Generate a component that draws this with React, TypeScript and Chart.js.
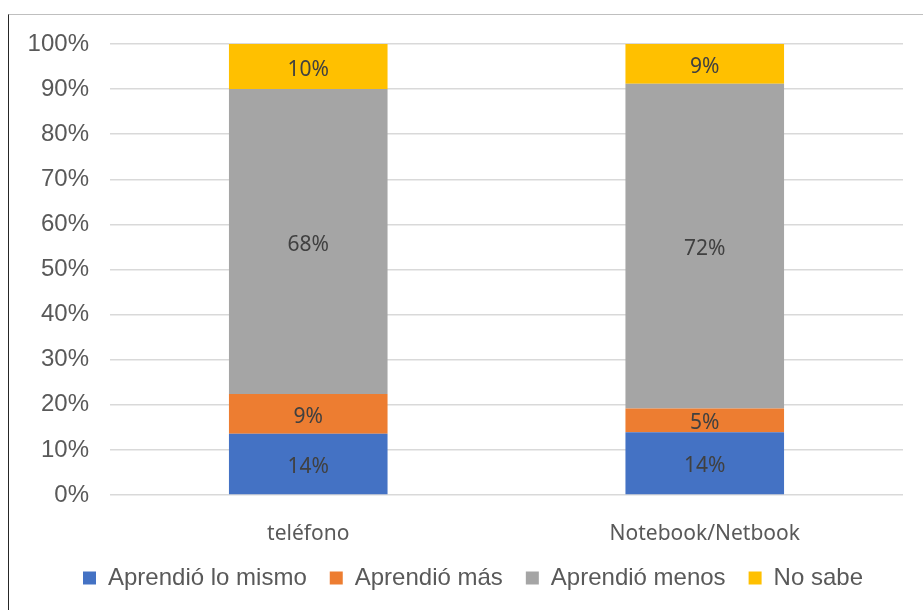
import React, { useEffect, useRef } from "react";
import { Chart, registerables } from "chart.js";

Chart.register(...registerables);

const categories = ["teléfono", "Notebook/Netbook"];
const seriesNames = ["Aprendió lo mismo", "Aprendió más", "Aprendió menos", "No sabe"];
const aprendioLoMismo = [13.6, 13.9];
const aprendioMas = [8.8, 5.3];
const aprendioMenos = [67.6, 72.0];
const noSabe = [10.0, 8.8];
const seriesColors = ["#4472C4", "#ED7D31", "#A5A5A5", "#FFC000"];
const yTicks = [0, 10, 20, 30, 40, 50, 60, 70, 80, 90, 100];

const dataLabelPlugin = {
  id: "segmentLabels",
  afterDatasetsDraw(chart: any) {
    const ctx = chart.ctx;
    ctx.save();
    ctx.font = '21px "Noto Sans"';
    ctx.fillStyle = "#404040";
    ctx.textAlign = "center";
    ctx.textBaseline = "middle";
    chart.data.datasets.forEach((ds: any, di: number) => {
      const meta = chart.getDatasetMeta(di);
      meta.data.forEach((el: any, i: number) => {
        const v = ds.data[i];
        const cy = (el.y + el.base) / 2;
        ctx.fillText(Math.round(v) + "%", el.x, cy + 3);
      });
    });
    ctx.restore();
  },
};

export default function App() {
  const ref = useRef<HTMLCanvasElement>(null);
  useEffect(() => {
    if (!ref.current) return;
    const values = [aprendioLoMismo, aprendioMas, aprendioMenos, noSabe];
    const chart = new Chart(ref.current, {
      type: "bar",
      data: {
        labels: categories,
        datasets: seriesNames.map((name, i) => ({
          label: name,
          data: values[i],
          backgroundColor: seriesColors[i],
          borderWidth: 0,
          categoryPercentage: 1,
          barPercentage: 0.4,
        })),
      },
      options: {
        animation: false,
        responsive: false,
        devicePixelRatio: 1,
        layout: { padding: { top: 29, left: 14, right: 0, bottom: 10 } },
        plugins: {
          tooltip: { enabled: false },
          legend: {
            position: "bottom",
            labels: {
              boxWidth: 13,
              boxHeight: 13,
              padding: 23,
              color: "#595959",
              font: { family: '"Liberation Sans", Arial, sans-serif', size: 24 },
            },
          },
        },
        scales: {
          x: {
            stacked: true,
            grid: { display: false },
            border: { display: false },
            ticks: {
              padding: 18,
              color: "#595959",
              font: { family: '"Noto Sans", sans-serif', size: 21 },
            },
            afterFit: (s: any) => {
              s.height = 48;
            },
          },
          y: {
            stacked: true,
            position: "left",
            min: 0,
            max: 100,
            afterBuildTicks: (s: any) => {
              s.ticks = yTicks.map((v) => ({ value: v }));
            },
            grid: { color: "#d9d9d9", lineWidth: 1.5, drawTicks: false },
            border: { display: false },
            ticks: {
              padding: 21,
              color: "#595959",
              font: { family: '"Liberation Sans", Arial, sans-serif', size: 24 },
              callback: (v: any) => v + "%",
            },
            afterFit: (s: any) => {
              s.width = 87;
              s.paddingTop = 0;
              s.paddingBottom = 0;
            },
          },
          yRight: {
            position: "right",
            display: true,
            min: 0,
            max: 100,
            grid: { display: false, drawTicks: false },
            border: { display: false },
            ticks: { display: false },
            afterFit: (s: any) => {
              s.width = 20;
              s.paddingTop = 0;
              s.paddingBottom = 0;
            },
          },
        },
      },
      plugins: [dataLabelPlugin],
    });
    return () => chart.destroy();
  }, []);

  return (
    <div
      style={{
        position: "absolute",
        left: 8,
        top: 14,
        width: 915,
        height: 596,
        boxSizing: "border-box",
        borderLeft: "1px solid #262626",
        borderTop: "1px solid #bfbfbf",
        background: "#fff",
      }}
    >
      <canvas ref={ref} width={914} height={595} style={{ display: "block" }} />
    </div>
  );
}
